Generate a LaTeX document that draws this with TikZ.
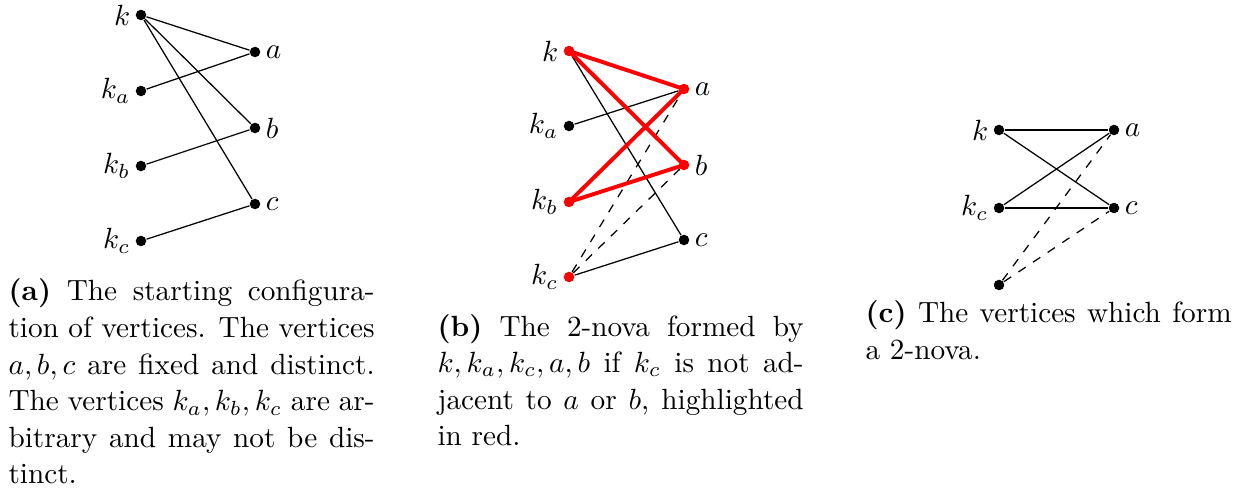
\documentclass[tikz,border=0pt]{standalone}
\newdimen\capw
\capw=125.2pt
\newcommand{\jline}[1]{\hbox to\capw{#1}}
\newcommand{\lastline}[1]{\hbox{#1}}
\newcommand{\capbox}[1]{\vtop{\hsize=\capw\baselineskip=12.5pt #1}}
\begin{document}
\begin{tikzpicture}[x=0.342pt,y=-0.342pt,
  vtx/.style={circle,fill=black,inner sep=0pt,minimum size=3.6pt},
  rv/.style={vtx,fill=red},
  lbl/.style={inner sep=1.5pt},
  edge/.style={line width=0.43pt},
  hl/.style={red,line width=1.35pt},
  dedge/.style={edge,dashed},
  capt/.style={inner sep=0pt,anchor=base west}]
\useasboundingbox (0,0) rectangle (1243,491);
% ---------- panel (a)
\node[vtx,label={[lbl]left:$k$}]   (ak)  at (141,15) {};
\node[vtx,label={[lbl]left:$k_a$}] (aka) at (141,91) {};
\node[vtx,label={[lbl]left:$k_b$}] (akb) at (141,166) {};
\node[vtx,label={[lbl]left:$k_c$}] (akc) at (141,241) {};
\node[vtx,label={[lbl]right:$a$}]  (aa)  at (255,52) {};
\node[vtx,label={[lbl]right:$b$}]  (ab)  at (255,128) {};
\node[vtx,label={[lbl]right:$c$}]  (ac)  at (255,204) {};
\draw[edge] (ak) -- (aa);
\draw[edge] (ak) -- (ab);
\draw[edge] (ak) -- (ac);
\draw[edge] (aka) -- (aa);
\draw[edge] (akb) -- (ab);
\draw[edge] (akc) -- (ac);
% ---------- panel (b)
\node[rv,label={[lbl]left:$k$}]    (bk)  at (569,51) {};
\node[vtx,label={[lbl]left:$k_a$}] (bka) at (569,126) {};
\node[rv,label={[lbl]left:$k_b$}]  (bkb) at (569,202) {};
\node[rv,label={[lbl]left:$k_c$}]  (bkc) at (569,277) {};
\node[rv,label={[lbl]right:$a$}]   (ba)  at (684,89) {};
\node[rv,label={[lbl]right:$b$}]   (bb)  at (684,165) {};
\node[vtx,label={[lbl]right:$c$}]  (bc)  at (684,240) {};
\draw[edge] (bk) -- (bc);
\draw[edge] (bka) -- (ba);
\draw[edge] (bkc) -- (bc);
\draw[dedge] (bkc) -- (ba);
\draw[dedge] (bkc) -- (bb);
\draw[hl] (bk.center) -- (ba.center);
\draw[hl] (bk.center) -- (bb.center);
\draw[hl] (bkb.center) -- (ba.center);
\draw[hl] (bkb.center) -- (bb.center);
% ---------- panel (c)
\node[vtx,label={[lbl]left:$k$}]   (ck)  at (999,130) {};
\node[vtx,label={[lbl]left:$k_c$}] (ckc) at (999,208) {};
\node[vtx]                         (cx)  at (999,285) {};
\node[vtx,label={[lbl]right:$a$}]  (ca)  at (1114,130) {};
\node[vtx,label={[lbl]right:$c$}]  (cc)  at (1114,208) {};
\draw[edge] (ck) -- (ca);
\draw[edge] (ck) -- (cc);
\draw[edge] (ckc) -- (ca);
\draw[edge] (ckc) -- (cc);
\draw[dedge] (cx) -- (ca);
\draw[dedge] (cx) -- (cc);
% ---------- captions
\node[capt] (capa) at (8,301) {\capbox{%
  \jline{\textbf{(a)} The starting configura-}%
  \jline{tion of vertices. The vertices}%
  \jline{$a,b,c$ are fixed and distinct.}%
  \jline{The vertices $k_a,k_b,k_c$ are ar-}%
  \jline{bitrary and may not be dis-}%
  \lastline{tinct.}}};
\node[capt] (capb) at (437,336) {\capbox{%
  \jline{\textbf{(b)} The 2-nova formed by}%
  \jline{$k,k_a,k_c,a,b$ if $k_c$ is not ad-}%
  \jline{jacent to $a$ or $b$, highlighted}%
  \lastline{in red.}}};
\node[capt] (capc) at (865,323) {\capbox{%
  \jline{\textbf{(c)} The vertices which form}%
  \lastline{a 2-nova.}}};
\end{tikzpicture}
\end{document}
